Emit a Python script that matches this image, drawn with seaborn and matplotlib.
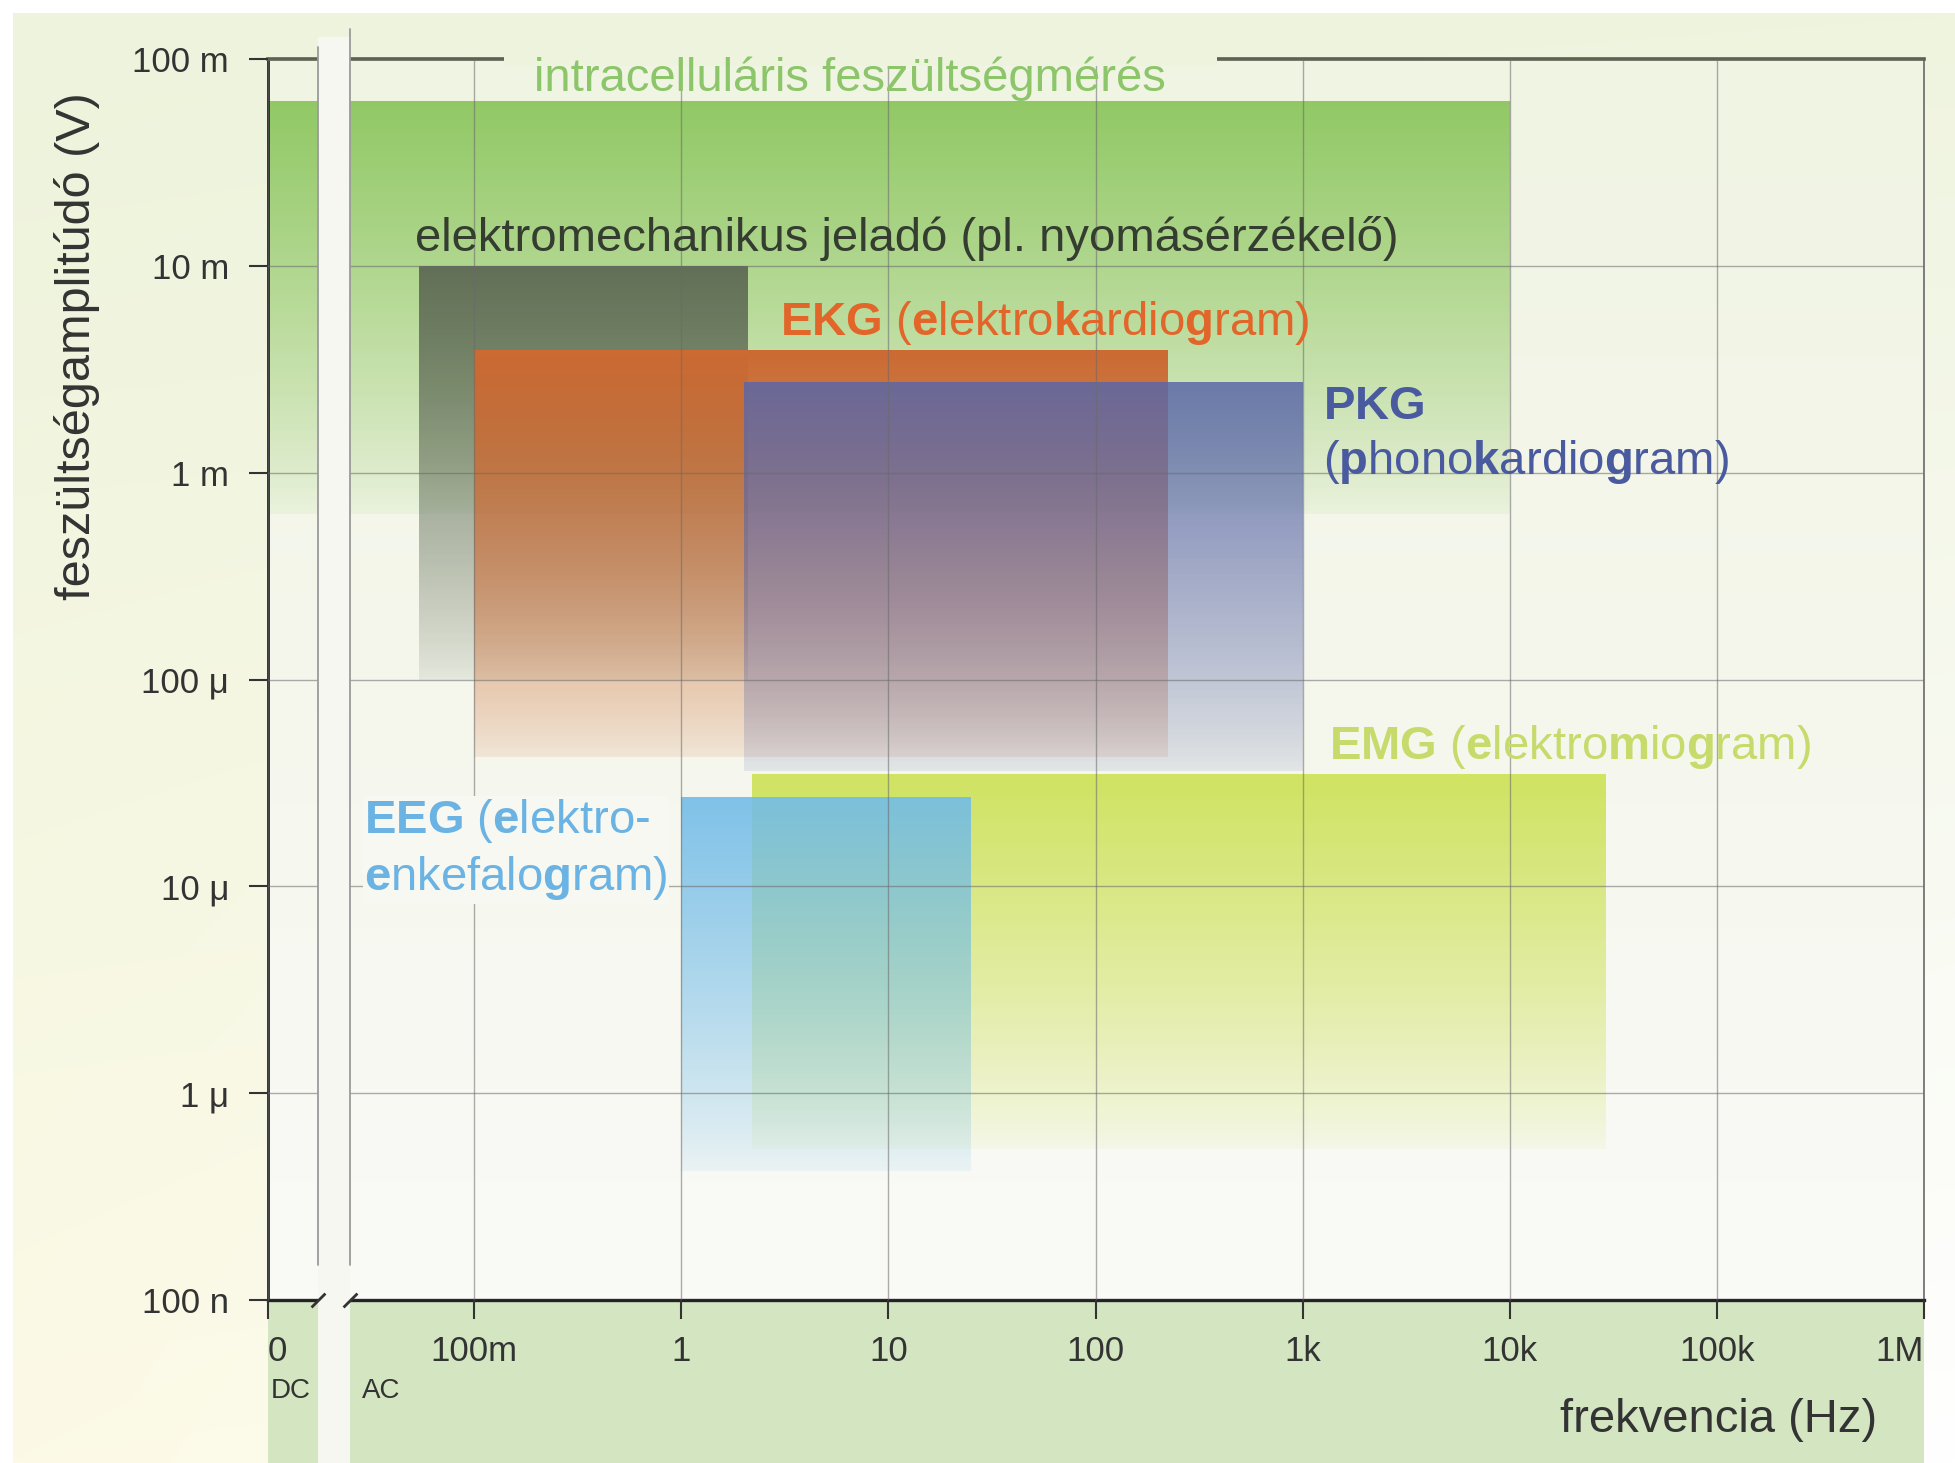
import numpy as np
import matplotlib
matplotlib.use('Agg')
import matplotlib.pyplot as plt
from matplotlib.colors import to_rgb
from matplotlib.patches import Rectangle
from matplotlib.ticker import NullLocator
import seaborn as sns

# frequency axis (Hz); the left edge of the axis stands for DC (0 Hz)
f_dc = 0.0101
f_max = 1e6
x_ticks = [f_dc, 0.1, 1, 10, 100, 1e3, 1e4, 1e5, 1e6]
x_labels = ['0', '100m', '1', '10', '100', '1k', '10k', '100k', '1M']
y_ticks = [1e-1, 1e-2, 1e-3, 1e-4, 1e-5, 1e-6, 1e-7]
y_labels = ['100 m', '10 m', '1 m', '100 μ', '10 μ', '1 μ', '100 n']
dc_gap = [0.0177, 0.025]

# signal regions (frequency range in Hz, amplitude range in V)
regions = ['intracell', 'elektromech', 'EKG', 'PKG', 'EMG', 'EEG']
f_low = [f_dc, 0.054, 0.1, 2.0, 2.2, 1.0]
f_high = [1e4, 2.1, 223, 1000, 29000, 25]
v_low = [6.3e-4, 1e-4, 4.2e-5, 3.6e-5, 5.4e-7, 4.2e-7]
v_high = [6.3e-2, 1e-2, 3.9e-3, 2.75e-3, 3.5e-5, 2.7e-5]
fill_colors = ['#8CC65E', '#5E6A55', '#CC6A33', '#5A67A8', '#CEE25A', '#72BCE8']
alpha_top = [0.95, 0.95, 1.0, 0.85, 0.95, 0.9]
alpha_bottom = [0.08, 0.1, 0.12, 0.12, 0.08, 0.1]

# region labels
label_text = [
    'intracelluláris feszültségmérés',
    'elektromechanikus jeladó (pl. nyomásérzékelő)',
    r'$\mathbf{EKG}$ ($\mathbf{e}$lektro$\mathbf{k}$ardio$\mathbf{g}$ram)',
    '$\\mathbf{PKG}$\n($\\mathbf{p}$hono$\\mathbf{k}$ardio$\\mathbf{g}$ram)',
    r'$\mathbf{EMG}$ ($\mathbf{e}$lektro$\mathbf{m}$io$\mathbf{g}$ram)',
    '$\\mathbf{EEG}$ ($\\mathbf{e}$lektro-\n$\\mathbf{e}$nkefalo$\\mathbf{g}$ram)',
]
label_x = [6.5, 0.052, 3.0, 1250, 1340, 0.0295]
label_y = [0.0800, 0.0136, 0.0053, 0.00152, 4.7e-5, 1.5e-5]
label_ha = ['center', 'left', 'left', 'left', 'left', 'left']
label_colors = ['#8DC56A', '#353D30', '#E2662A', '#4A5A9F', '#C6DB6C', '#6BB3E3']

sns.set_theme(style='white')
plt.rcParams['font.family'] = ['Liberation Sans', 'DejaVu Sans']
plt.rcParams['mathtext.fontset'] = 'custom'
plt.rcParams['mathtext.rm'] = 'Liberation Sans'
plt.rcParams['mathtext.bf'] = 'Liberation Sans:bold'
plt.rcParams['mathtext.it'] = 'Liberation Sans:italic'

W, H = 1956, 1463
fig = plt.figure(figsize=(W / 100, H / 100), dpi=100, facecolor='white')

# page background: greenish top, yellowish left, white lower right
corners = np.array([[to_rgb('#EDF3DC'), to_rgb('#EFF4DF')],
                    [to_rgb('#FCFAE6'), to_rgb('#FFFFFF')]])
ty = np.linspace(0, 1, 200)[:, None, None]
tx = np.linspace(0, 1, 200)[None, :, None]
page = ((1 - ty) * ((1 - tx) * corners[0, 0] + tx * corners[0, 1])
        + ty * ((1 - tx) * corners[1, 0] + tx * corners[1, 1]))
bg = fig.add_axes([13 / W, 0, 1 - 13 / W, 1 - 13 / H], zorder=-2)
bg.imshow(page, aspect='auto', extent=[0, 1, 0, 1], interpolation='bilinear')
bg.axis('off')

pos = [268 / W, 163 / H, 1656 / W, 1241 / H]
inner = fig.add_axes(pos, zorder=-1)
top_c, bot_c = np.array(to_rgb('#F0F4E2')), np.array(to_rgb('#FAFAF7'))
tt = np.linspace(0, 1, 200)[:, None, None]
inner.imshow((1 - tt) * top_c + tt * bot_c, aspect='auto', extent=[0, 1, 0, 1])
inner.axis('off')

ax = fig.add_axes(pos, zorder=1)
ax.set_facecolor('none')
ax.set_xscale('log')
ax.set_yscale('log')

# gradient-filled regions
n = 150
for i in range(len(regions)):
    rgba = np.zeros((n, 1, 4))
    rgba[:, 0, :3] = to_rgb(fill_colors[i])
    rgba[:, 0, 3] = alpha_bottom[i] + (alpha_top[i] - alpha_bottom[i]) * np.linspace(0, 1, n) ** 0.85
    ax.pcolormesh([f_low[i], f_high[i]], np.geomspace(v_low[i], v_high[i], n + 1),
                  rgba, edgecolors='none', linewidth=0, antialiased=False, zorder=1)

ax.set_xlim(f_dc, f_max)
ax.set_ylim(1e-7, 1e-1)

ax.grid(True, which='major', color='#6A6A6A', lw=1.0, alpha=0.55)
ax.set_axisbelow(False)

ax.set_xticks(x_ticks)
ax.set_xticklabels(x_labels)
ax.set_yticks(y_ticks)
ax.set_yticklabels(y_labels)
ax.xaxis.set_minor_locator(NullLocator())
ax.yaxis.set_minor_locator(NullLocator())
ax.tick_params(axis='x', direction='out', length=14, width=1.5, pad=11,
               labelsize=25, colors='#333333', bottom=True)
ax.tick_params(axis='y', direction='out', length=14, width=1.5, pad=14,
               labelsize=25, colors='#333333', left=True)
xl = ax.get_xticklabels()
xl[0].set_ha('left')
xl[-1].set_ha('right')

for side, lw, c in [('left', 2.0, '#222222'), ('bottom', 2.4, '#222222'),
                    ('top', 2.6, '#59604F'), ('right', 1.2, '#6A6A6A')]:
    ax.spines[side].set_visible(True)
    ax.spines[side].set_linewidth(lw)
    ax.spines[side].set_color(c)

# green band below the frequency axis
ax.add_patch(Rectangle((0, -0.1313), 1, 0.1313, transform=ax.transAxes,
                       facecolor='#D3E5C1', edgecolor='none', clip_on=False, zorder=0.5))

# DC / AC break strip
xt = ax.get_xaxis_transform()
ax.add_patch(Rectangle((dc_gap[0], -0.1313), dc_gap[1] - dc_gap[0], 1.149, transform=xt,
                       facecolor='#F6F7F0', edgecolor='none', clip_on=False, zorder=4))
ax.plot([dc_gap[0], dc_gap[0]], [0.028, 1.010], transform=xt, color='#9A9A9A',
        lw=1.3, clip_on=False, zorder=4.5)
ax.plot([dc_gap[1], dc_gap[1]], [0.028, 1.024], transform=xt, color='#9A9A9A',
        lw=1.3, clip_on=False, zorder=4.5)
ax.plot(dc_gap, [0, 0], transform=xt, ls='none', marker=[(-1, -1), (1, 1)],
        ms=10, mew=2, color='#333333', clip_on=False, zorder=5)
ax.text(0.01045, -0.0733, 'DC', transform=xt, fontsize=20, color='#333333',
        ha='left', va='center')
ax.text(0.0287, -0.0733, 'AC', transform=xt, fontsize=20, color='#333333',
        ha='left', va='center')

# gap in the top frame line behind the title
ax.axvspan(0.14, 384, ymin=0.994, ymax=1.006, facecolor='#EEF3DE', edgecolor='none',
           clip_on=False, zorder=3)

for i in range(len(label_text)):
    kw = {}
    if regions[i] == 'EEG':
        kw['bbox'] = dict(facecolor='#F8F8F3', edgecolor='none', pad=1)
    ax.text(label_x[i], label_y[i], label_text[i], color=label_colors[i], fontsize=34,
            ha=label_ha[i], va='center', linespacing=1.25, zorder=6, **kw)

ax.set_xlabel('frekvencia (Hz)', fontsize=34, color='#333333', ha='right', va='center')
ax.xaxis.set_label_coords(0.9716, -0.097)
ax.set_ylabel('feszültségamplitúdó (V)', fontsize=35, color='#333333', ha='center', va='center')
ax.yaxis.set_label_coords(-0.1153, 0.7687)

fig.savefig('out.png', dpi=100)
